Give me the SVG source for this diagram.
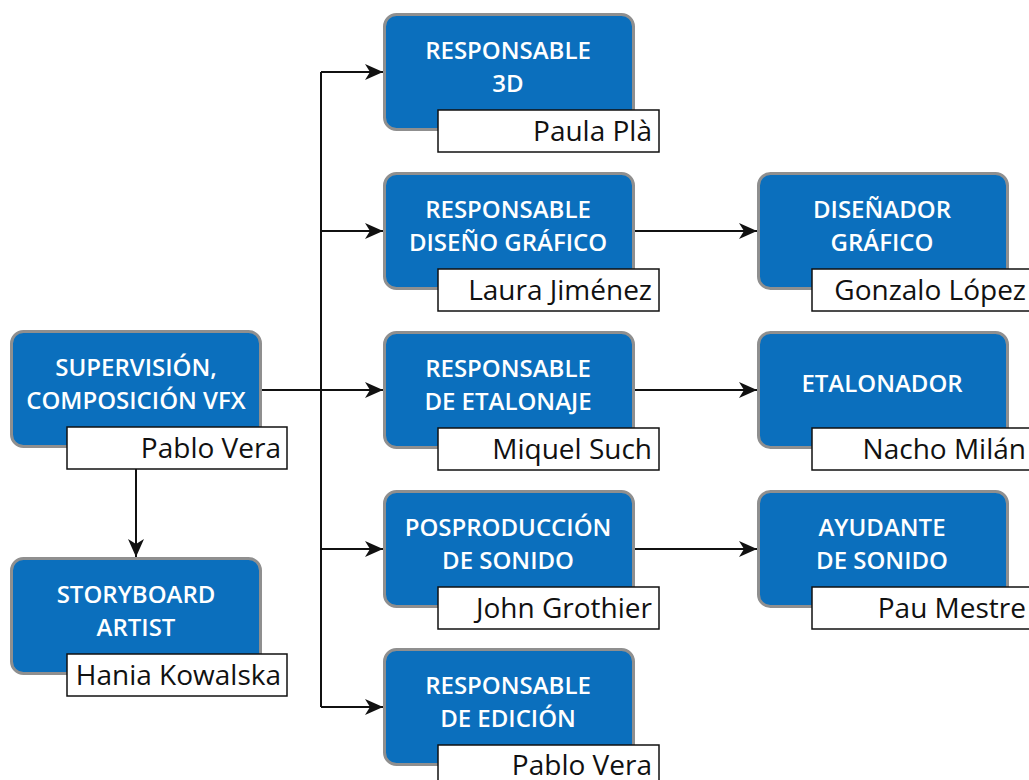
<svg xmlns="http://www.w3.org/2000/svg" width="1029" height="780" viewBox="0 0 1029 780">
<style>
.box{fill:#0b6fbd;stroke:#8f8f8f;stroke-width:3}
.nb{fill:#fff;stroke:#111;stroke-width:1.5}
.t{font-family:"Open Sans","Liberation Sans",sans-serif;font-weight:600;font-size:24px;fill:#fff;text-anchor:middle}
.n{font-family:"Open Sans","Liberation Sans",sans-serif;font-size:28px;fill:#111;text-anchor:end}
.c{stroke:#111;stroke-width:2;fill:none}
</style>
<defs>
<marker id="ah" markerWidth="20" markerHeight="18" refX="18" refY="9" orient="auto" markerUnits="userSpaceOnUse">
<path d="M0,1 L18,9 L0,17 L5,9 z" fill="#111"/>
</marker>
</defs>
<rect width="1029" height="780" fill="#fff"/>
<g id="connectors">
<path class="c" d="M321,72 V707"/>
<path class="c" d="M262,390 H383" marker-end="url(#ah)"/>
<path class="c" d="M321,72 H383" marker-end="url(#ah)"/>
<path class="c" d="M321,231 H383" marker-end="url(#ah)"/>
<path class="c" d="M321,549 H383" marker-end="url(#ah)"/>
<path class="c" d="M321,707 H383" marker-end="url(#ah)"/>
<path class="c" d="M633,231 H757" marker-end="url(#ah)"/>
<path class="c" d="M633,390 H757" marker-end="url(#ah)"/>
<path class="c" d="M633,549 H757" marker-end="url(#ah)"/>
<path class="c" d="M136,469 V557" marker-end="url(#ah)"/>
</g>
<g id="supervision">
<rect class="box" x="11.5" y="331.5" width="249" height="115" rx="12"/>
<text class="t" x="136" y="376">SUPERVISIÓN,</text>
<text class="t" x="136" y="409">COMPOSICIÓN VFX</text>
<rect class="nb" x="67" y="427" width="220" height="42"/>
<text class="n" x="281" y="458">Pablo Vera</text>
</g>
<g id="storyboard">
<rect class="box" x="11.5" y="558.5" width="249" height="115" rx="12"/>
<text class="t" x="136" y="603">STORYBOARD</text>
<text class="t" x="136" y="636">ARTIST</text>
<rect class="nb" x="67" y="654" width="220" height="42"/>
<text class="n" x="281" y="685">Hania Kowalska</text>
</g>
<g id="resp3d">
<rect class="box" x="384.5" y="14.5" width="249" height="115" rx="12"/>
<text class="t" x="508" y="59">RESPONSABLE</text>
<text class="t" x="508" y="92">3D</text>
<rect class="nb" x="438" y="110" width="221" height="42"/>
<text class="n" x="652" y="141">Paula Plà</text>
</g>
<g id="respdiseno">
<rect class="box" x="384.5" y="173.5" width="249" height="115" rx="12"/>
<text class="t" x="508" y="218">RESPONSABLE</text>
<text class="t" x="508" y="251">DISEÑO GRÁFICO</text>
<rect class="nb" x="438" y="269" width="221" height="42"/>
<text class="n" x="652" y="300">Laura Jiménez</text>
</g>
<g id="respetalonaje">
<rect class="box" x="384.5" y="332.5" width="249" height="115" rx="12"/>
<text class="t" x="508" y="377">RESPONSABLE</text>
<text class="t" x="508" y="410">DE ETALONAJE</text>
<rect class="nb" x="438" y="428" width="221" height="42"/>
<text class="n" x="652" y="459">Miquel Such</text>
</g>
<g id="posproduccion">
<rect class="box" x="384.5" y="491.5" width="249" height="115" rx="12"/>
<text class="t" x="508" y="536">POSPRODUCCIÓN</text>
<text class="t" x="508" y="569">DE SONIDO</text>
<rect class="nb" x="438" y="587" width="221" height="42"/>
<text class="n" x="652" y="618">John Grothier</text>
</g>
<g id="respedicion">
<rect class="box" x="384.5" y="649.5" width="249" height="115" rx="12"/>
<text class="t" x="508" y="694">RESPONSABLE</text>
<text class="t" x="508" y="727">DE EDICIÓN</text>
<rect class="nb" x="438" y="745" width="221" height="42"/>
<text class="n" x="652" y="775">Pablo Vera</text>
</g>
<g id="disenador">
<rect class="box" x="758.5" y="173.5" width="249" height="115" rx="12"/>
<text class="t" x="882" y="218">DISEÑADOR</text>
<text class="t" x="882" y="251">GRÁFICO</text>
<rect class="nb" x="812" y="269" width="221" height="42"/>
<text class="n" x="1026" y="300">Gonzalo López</text>
</g>
<g id="etalonador">
<rect class="box" x="758.5" y="332.5" width="249" height="115" rx="12"/>
<text class="t" x="882" y="392">ETALONADOR</text>
<rect class="nb" x="812" y="428" width="221" height="42"/>
<text class="n" x="1026" y="459">Nacho Milán</text>
</g>
<g id="ayudante">
<rect class="box" x="758.5" y="491.5" width="249" height="115" rx="12"/>
<text class="t" x="882" y="536">AYUDANTE</text>
<text class="t" x="882" y="569">DE SONIDO</text>
<rect class="nb" x="812" y="587" width="221" height="42"/>
<text class="n" x="1026" y="618">Pau Mestre</text>
</g>
</svg>
